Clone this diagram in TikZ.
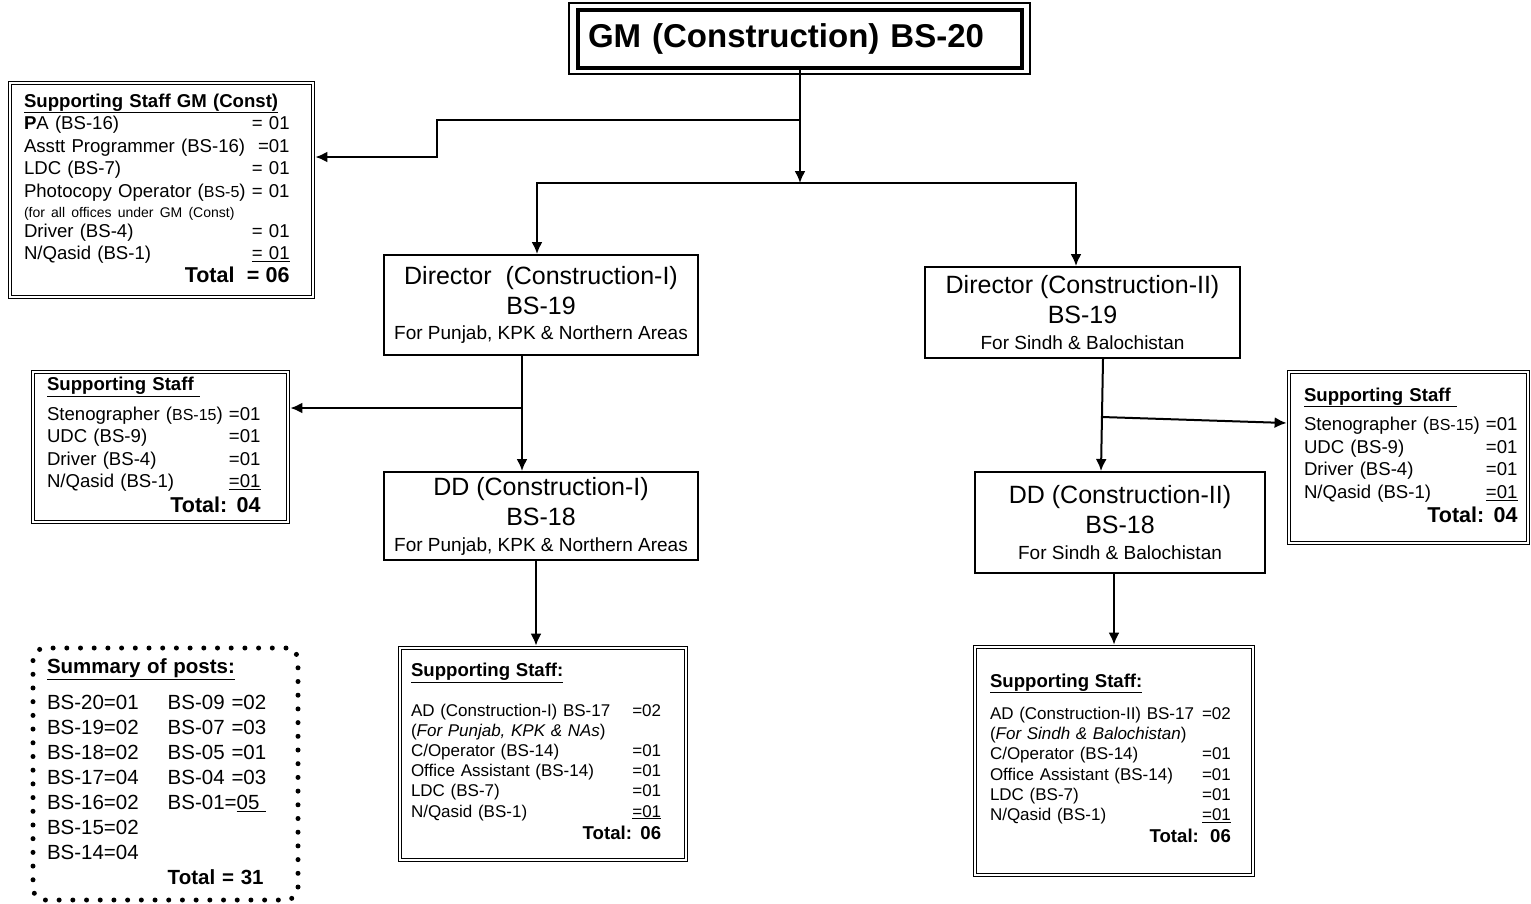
\documentclass[tikz,border=0pt]{standalone}
\usepackage{fontspec}
\setmainfont{Liberation Sans}
\usetikzlibrary{arrows.meta,positioning,calc}

\newcommand{\gmsz}{\fontsize{33pt}{38pt}\selectfont}
\newcommand{\dirsz}{\fontsize{25pt}{30pt}\selectfont}
\newcommand{\placesz}{\fontsize{19pt}{23pt}\selectfont}
\newcommand{\staffsz}{\fontsize{18.6pt}{22.5pt}\selectfont}
\newcommand{\bssz}{\fontsize{16pt}{19pt}\selectfont}
\newcommand{\notesz}{\fontsize{14pt}{17pt}\selectfont}
\newcommand{\totsz}{\fontsize{21.5pt}{24pt}\selectfont}
\newcommand{\adsz}{\fontsize{17pt}{20.2pt}\selectfont}
\newcommand{\sumsz}{\fontsize{20.5pt}{25pt}\selectfont}

\begin{document}
\begin{tikzpicture}[x=1pt,y=-1pt,
  title/.style={draw,line width=4.5pt,outer sep=0pt,inner xsep=10pt,align=left,font=\gmsz\bfseries},
  post/.style={draw,line width=2pt,outer sep=1pt,inner sep=0pt,align=center,font=\dirsz},
  staff/.style={draw,line width=1.3pt,double,double distance=2.2pt,outer sep=2.4pt,inner ysep=0pt,align=left},
  tally/.style={draw,line width=5pt,line cap=round,dash pattern=on 0pt off 13.7pt,rounded corners=12pt,inner ysep=0pt,align=left,font=\sumsz},
  link/.style={line width=2pt,-{Latex[length=12pt,width=11pt]}},
  wire/.style={line width=2pt}]
  \useasboundingbox (0,0) rectangle (1531,903);

  % top post
  \node (gm) [title,text width=424pt,minimum height=58pt] at (800,39) {GM (Construction) BS-20};
  \draw[line width=1.3pt] ([shift={(-9pt,7pt)}]gm.north west) rectangle ([shift={(8pt,-6pt)}]gm.south east);

  % directors and deputies
  \node (dir1) [post,minimum width=314pt,minimum height=100pt] at (541,305)
    {Director\ \ (Construction-I)\\BS-19\\[-5pt]{\placesz For Punjab, KPK \& Northern Areas}};
  \node (dir2) [post,minimum width=315pt,minimum height=91pt] at (1082.5,312.5)
    {Director (Construction-II)\\BS-19\\[-4pt]{\placesz For Sindh \& Balochistan}};
  \node (dd1) [post,minimum width=314pt,minimum height=88pt] at (541,516)
    {DD (Construction-I)\\BS-18\\[-4pt]{\placesz For Punjab, KPK \& Northern Areas}};
  \node (dd2) [post,minimum width=290pt,minimum height=101pt] at (1120,522.5)
    {DD (Construction-II)\\BS-18\\[-4pt]{\placesz For Sindh \& Balochistan}};

  % supporting staff
  \node (gmstaff) [staff,font=\staffsz,text width=275pt,inner xsep=14pt,minimum height=214pt] at (161.5,190) {\noindent
    \begin{tabular}{@{}l@{}r@{}}
      \multicolumn{2}{@{}l@{}}{\textbf{\underline{Supporting Staff GM (Const)}}}\\
      \textbf{P}A (BS-16) & = 01\\
      Asstt Programmer (BS-16) & \ =01\\
      LDC (BS-7) & = 01\\
      Photocopy Operator ({\bssz BS-5}) & \ = 01\\\noalign{\vskip -2.5pt}
      \multicolumn{2}{@{}l@{}}{\notesz (for all offices under GM (Const)}\\\noalign{\vskip -2.5pt}
      Driver (BS-4) & = 01\\
      N/Qasid (BS-1) & \underline{= 01}\\
      \multicolumn{2}{@{}r@{}}{\totsz\textbf{Total\ \ = 06}}
    \end{tabular}};
  \node (staff1) [staff,font=\staffsz,text width=227pt,inner xsep=14pt,minimum height=150pt] at (160.5,447) {\noindent
    \begin{tabular}{@{}l@{\ }r@{}}
      \multicolumn{2}{@{}l@{}}{\textbf{\underline{Supporting Staff\ }}}\\\noalign{\vskip 7pt}
      Stenographer ({\bssz BS-15}) & =01\\
      UDC (BS-9) & =01\\
      Driver (BS-4) & =01\\
      N/Qasid (BS-1) & \underline{=01}\\\noalign{\vskip 2pt}
      \multicolumn{2}{@{}r@{}}{\totsz\textbf{Total: 04}}
    \end{tabular}};
  \node (staff2) [staff,font=\staffsz,text width=209pt,inner xsep=15pt,minimum height=171pt] at (1408.5,457.5) {\noindent
    \begin{tabular}{@{}l@{\ }r@{}}
      \multicolumn{2}{@{}l@{}}{\textbf{\underline{Supporting Staff\ }}}\\\noalign{\vskip 7pt}
      Stenographer ({\bssz BS-15}) & =01\\
      UDC (BS-9) & =01\\
      Driver (BS-4) & =01\\
      N/Qasid (BS-1) & \underline{=01}\\\noalign{\vskip 2pt}
      \multicolumn{2}{@{}r@{}}{\totsz\textbf{Total: 04}}
    \end{tabular}};
  \node (ad1) [staff,font=\adsz,text width=264pt,inner xsep=11pt,minimum height=212pt] at (543,754) {\noindent
    \begin{tabular}{@{}l@{\hspace{22pt}}r@{}}
      \multicolumn{2}{@{}l@{}}{\staffsz\textbf{\underline{Supporting Staff:}}}\\\noalign{\vskip 19pt}
      AD (Construction-I) BS-17 & =02\\
      (\textit{For Punjab, KPK \& NAs}) & \\
      C/Operator (BS-14) & =01\\
      Office Assistant (BS-14) & =01\\
      LDC (BS-7) & =01\\
      N/Qasid (BS-1) & \underline{=01}\\\noalign{\vskip 2pt}
      \multicolumn{2}{@{}r@{}}{\staffsz\textbf{Total: 06}}
    \end{tabular}};
  \node (ad2) [staff,font=\adsz,text width=248pt,inner xsep=15pt,minimum height=228pt] at (1114,761) {\noindent
    \begin{tabular}{@{}l@{\hspace{8pt}}r@{}}
      \multicolumn{2}{@{}l@{}}{\staffsz\textbf{\underline{Supporting Staff:}}}\\\noalign{\vskip 12pt}
      AD (Construction-II) BS-17 & =02\\
      (\textit{For Sindh \& Balochistan}) & \\
      C/Operator (BS-14) & =01\\
      Office Assistant (BS-14) & =01\\
      LDC (BS-7) & =01\\
      N/Qasid (BS-1) & \underline{=01}\\\noalign{\vskip 2pt}
      \multicolumn{2}{@{}r@{}}{\staffsz\textbf{Total:\ \ 06}}
    \end{tabular}};

  % summary
  \node (summary) [tally,text width=237pt,inner xsep=14pt,minimum width=265pt,minimum height=252pt] at (165.5,774) {\noindent
    \begin{tabular}{@{}l@{\hspace{29pt}}l@{}}
      \multicolumn{2}{@{}l@{}}{\textbf{\underline{Summary of posts:}}}\\\noalign{\vskip 11pt}
      BS-20=01 & BS-09 =02\\
      BS-19=02 & BS-07 =03\\
      BS-18=02 & BS-05 =01\\
      BS-17=04 & BS-04 =03\\
      BS-16=02 & BS-01=\underline{05\ }\\
      BS-15=02 & \\
      BS-14=04 & \\
      & \textbf{Total = 31}
    \end{tabular}};

  % connectors
  \coordinate (hub) at (800,183);
  \coordinate (gmtap) at (800,120);
  \coordinate (gmbend) at (437,157);
  \coordinate (d1tap) at (522,408);
  \coordinate (a1x) at (536,600);
  \coordinate (d2tap) at (1102,417);
  \draw[link] (gm.south) -- (hub);
  \draw[wire] ([xshift=-4pt]dir1.north |- hub) -- ([xshift=-6.5pt]dir2.north |- hub);
  \draw[link] (hub) -| ([xshift=-4pt]dir1.north);
  \draw[link] (hub) -| ([xshift=-6.5pt]dir2.north);
  \draw[link] (gmtap) -| (gmbend) -- (gmstaff.east |- gmbend);
  \draw[link] (d1tap |- dir1.south) -- (d1tap |- dd1.north);
  \draw[link] (d1tap) -- (staff1.east |- d1tap);
  \draw[link] (a1x |- dd1.south) -- (a1x |- ad1.north);
  \draw[link] ([xshift=20.5pt]dir2.south) -- ([xshift=-19pt]dd2.north);
  \draw[link] (d2tap) -- ([yshift=34.5pt]staff2.west);
  \draw[link] (ad2.north |- dd2.south) -- (ad2.north);
\end{tikzpicture}
\end{document}
